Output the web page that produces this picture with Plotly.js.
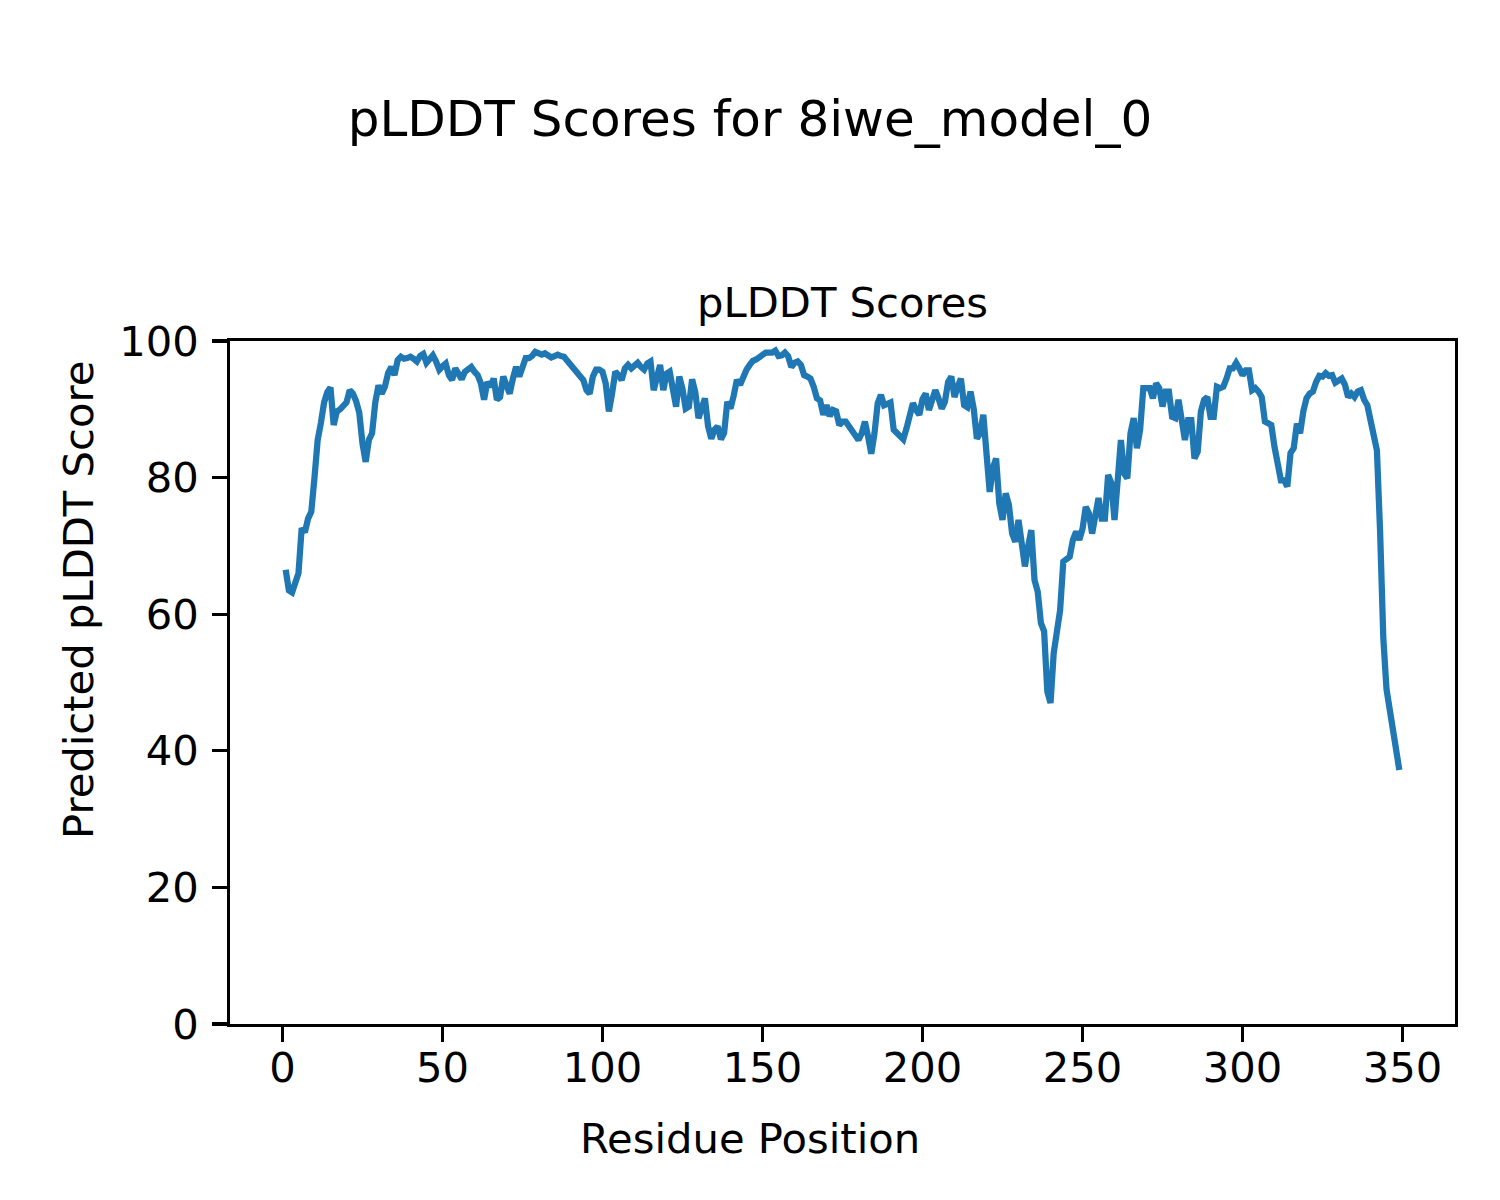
<!DOCTYPE html>
<html>
<head>
<meta charset="utf-8">
<script src="https://cdn.plot.ly/plotly-3.0.1.min.js"></script>
<style>
html,body{margin:0;padding:0;background:#fff;}
#chart{width:1500px;height:1200px;}
</style>
</head>
<body>
<div id="chart"></div>
<script>
const residueStart = 1;
const plddt = [
66.5,63.5,63.2,64.5,66,72.6,72,74,75,80,
85.5,88,91,92.5,93.2,87.7,89.7,90,90.5,91,
92.8,92.3,91.2,89.5,85,82.3,85.5,86.5,91,93.5,
92.3,93.3,95.3,96.2,95,97.2,97.7,97.4,97.5,97.7,
97.4,97,97.8,98.1,96.8,97.5,97.9,97,95.8,96.3,
96.7,95,94.3,96,95,94.4,95.5,96,96.2,95.5,
95,93.8,91.4,94,93.3,94.5,91.4,91.8,94.8,93.5,
92.3,94.5,96.2,94.8,96.5,97.5,97.5,97.8,98.4,98.2,
98,98.2,97.8,97.6,97.8,98,97.8,97.7,97.1,96.5,
96,95.3,94.9,94.3,92.8,92.3,94.8,95.8,95.8,95.5,
93.8,89.7,92.3,95.5,95,94.3,96,96.5,96,96.3,
96.8,96.2,95.8,96.7,97,92.8,95,96.5,92.8,95.2,
95.5,93,90.4,94.8,93,90.1,90.4,94.4,92.5,88.7,
90,91.6,87.5,85.7,87,87.5,85.6,86.5,91.1,90.1,
92,94.3,93.6,95,95.8,96.5,97.1,97.3,97.6,98,
98.3,98.3,98.3,98.6,97.8,97.9,98.3,97.8,96.2,96.8,
97,96.5,95,94.8,94.5,93.3,91.6,91.3,89.2,90.6,
89,89.9,89.7,87.7,88.2,88.2,87.5,86.8,86,85.5,
86.5,88.2,86,83.5,86.5,90.9,92.1,90.6,90.8,91,
87,86.5,86,85.6,87.2,89.5,90.9,89.9,89.2,91.5,
92.3,89.9,91.1,92.8,91.6,90.1,91.1,94,94.8,91.8,
93.3,94.5,90.6,90.3,92.6,90.1,85.7,86.5,89.2,82.6,
77.9,81.4,82.8,76.2,73.8,77.7,76,71.8,70.6,73.8,
70.4,67,69.9,72.3,65,63.3,58.7,57.5,48.7,47,
54.3,57.2,60.6,67.7,68.2,68.4,70.9,72.1,70.9,72.5,
75.7,74.8,71.8,74.3,77,74,74,80.4,79.2,73.8,
78.7,85.5,80.6,79.9,86.5,88.7,84.3,87,93.1,93.1,
93.1,91.6,93.8,93.1,90.4,92.6,92.6,88.9,88.7,91.4,
87.5,85.5,88.4,88.4,82.8,83.8,89.7,91.4,91.8,88.9,
88.9,93.3,93.1,93.3,94.5,96,96,96.8,96,95,
95.7,95.7,92.8,93.1,92.6,91.8,88.2,87.9,87.7,84.5,
81.6,79.6,79.6,78.7,83.6,84.3,87.9,86.5,89.7,91.6,
92.3,92.6,94,94.9,94.8,95.3,94.9,95,93.9,94.3,
94.5,93.6,91.8,92.3,91.8,92.6,92.8,91.4,90.6,88.4,
86,84,72,56.5,49,46,43.5,39.6,37.2
];
const xTicks = [0,50,100,150,200,250,300,350];
const yTicks = [0,20,40,60,80,100];
const figTitle = "pLDDT Scores for 8iwe_model_0";
const axTitle = "pLDDT Scores";
const xLabel = "Residue Position";
const yLabel = "Predicted pLDDT Score";

const residues = plddt.map((_, i) => residueStart + i);

const font = "DejaVu Sans, sans-serif";
const W = 1500, H = 1200, L = 230, R = 45, T = 341, B = 176;
const pw = W - L - R, ph = H - T - B;
const trace = {
  x: residues, y: plddt, type: "scatter", mode: "lines",
  line: {color: "#1f77b4", width: 6.25}, hoverinfo: "skip"
};
const axisCommon = {
  showline: true, mirror: true, linecolor: "#000", linewidth: 3.3,
  ticks: "outside", ticklen: 14.6, tickwidth: 3.3, tickcolor: "#000",
  showgrid: false, zeroline: false,
  tickfont: {family: font, size: 41.7, color: "#000"}
};
const layout = {
  width: W, height: H,
  paper_bgcolor: "#fff", plot_bgcolor: "#fff",
  margin: {l: L, r: R, t: T, b: B, pad: 0},
  showlegend: false,
  title: {text: figTitle, x: 0.5, xanchor: "center", y: 1 - 118/H, yanchor: "middle", yref: "container",
          font: {family: font, size: 50, color: "#000"}},
  xaxis: Object.assign({}, axisCommon, {
    range: [-16.4, 366.4], tickvals: xTicks, ticktext: xTicks.map(String),
    ticklabelstandoff: -10
  }),
  yaxis: Object.assign({}, axisCommon, {
    range: [0, 100], tickvals: yTicks, ticktext: yTicks.map(String),
    ticklabelstandoff: 5
  }),
  annotations: [
    {text: axTitle, xref: "paper", yref: "paper", x: 0.5, y: 1, yanchor: "bottom", xanchor: "center",
     yshift: 12, showarrow: false, font: {family: font, size: 41.7, color: "#000"}},
    {text: xLabel, xref: "paper", yref: "paper", x: (750 - L)/pw, y: (H - B - 1138)/ph,
     xanchor: "center", yanchor: "middle", showarrow: false, font: {family: font, size: 41.7, color: "#000"}},
    {text: yLabel, xref: "paper", yref: "paper", x: (78 - L)/pw, y: (H - B - 600)/ph, textangle: -90,
     xanchor: "center", yanchor: "middle", showarrow: false, font: {family: font, size: 41.7, color: "#000"}}
  ]
};
Plotly.newPlot("chart", [trace], layout, {staticPlot: true, displayModeBar: false});
</script>
</body>
</html>
